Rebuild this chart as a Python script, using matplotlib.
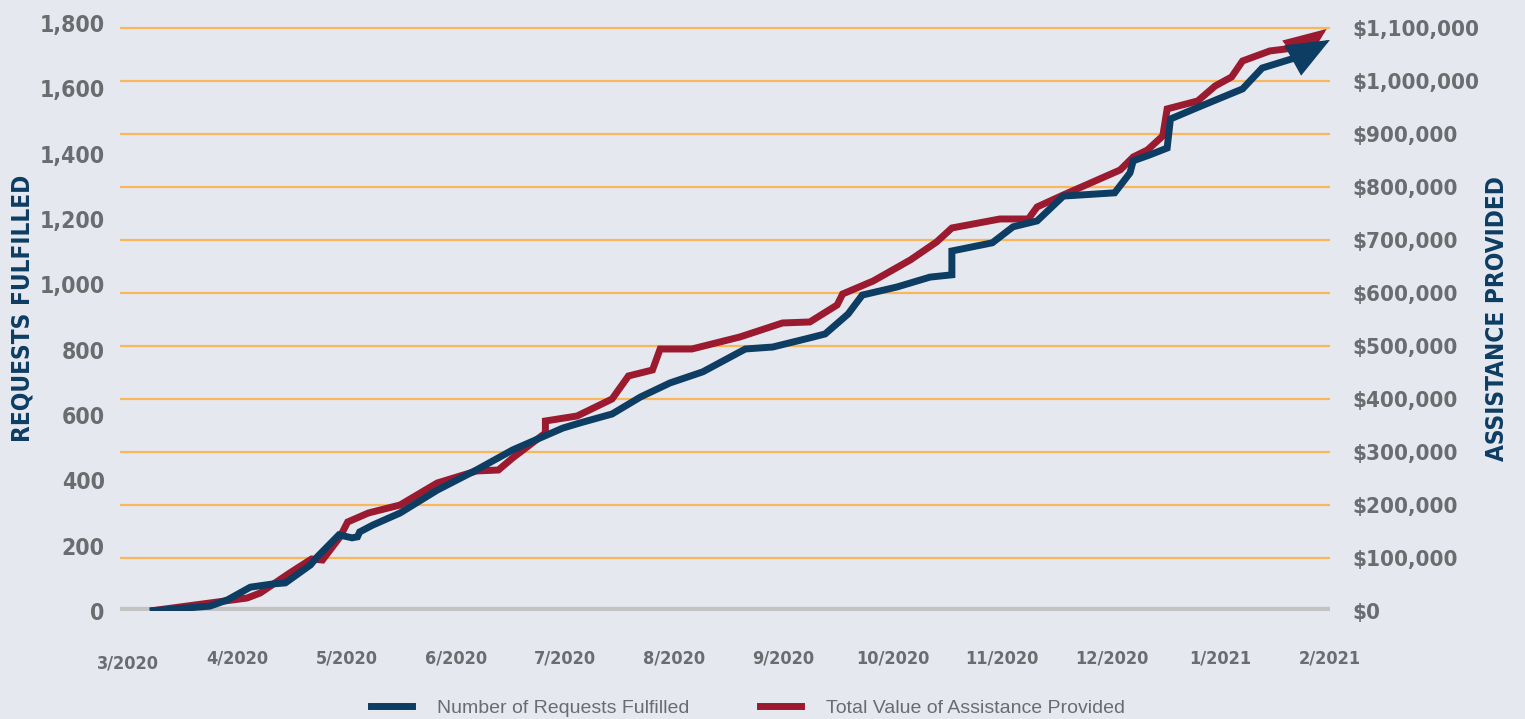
import numpy as np
import matplotlib
matplotlib.use('Agg')
import matplotlib.pyplot as plt
import matplotlib.transforms as mtransforms
from matplotlib import font_manager
from matplotlib.font_manager import FontProperties
from matplotlib.ticker import FuncFormatter

# x positions are months since 3/2020
month_labels = ['3/2020', '4/2020', '5/2020', '6/2020', '7/2020', '8/2020',
                '9/2020', '10/2020', '11/2020', '12/2020', '1/2021', '2/2021']

req_x = [0.20, 0.75, 0.91, 1.12, 1.33, 1.44, 1.67, 1.73, 1.93, 2.05, 2.10, 2.12,
         2.24, 2.49, 2.83, 3.19, 3.52, 3.98, 4.14, 4.43, 4.69, 4.96, 5.26, 5.65,
         5.90, 6.24, 6.38, 6.59, 6.72, 7.04, 7.34, 7.54, 7.54, 7.91, 8.10, 8.32,
         8.56, 9.03, 9.17, 9.20, 9.35, 9.51, 9.54, 9.78, 10.20, 10.38, 10.71, 10.80, 11.0]
requests = [0, 15, 34, 73, 83, 86, 141, 165, 233, 224, 227, 242,
            263, 300, 370, 432, 493, 560, 576, 603, 655, 698, 732, 802,
            808, 836, 848, 909, 967, 992, 1022, 1029, 1102, 1127, 1176, 1194,
            1270, 1280, 1341, 1378, 1396, 1417, 1506, 1540, 1598, 1662, 1696, 1711, 1748]

val_x = [0.20, 1.09, 1.21, 1.48, 1.68, 1.78, 1.94, 2.01, 2.20, 2.49, 2.83, 3.19,
         3.39, 3.52, 3.82, 3.82, 4.11, 4.43, 4.58, 4.80, 4.87, 5.16, 5.60, 5.99,
         6.24, 6.49, 6.54, 6.82, 7.16, 7.40, 7.54, 7.98, 8.24, 8.32, 8.56, 9.08,
         9.20, 9.33, 9.47, 9.51, 9.79, 9.95, 10.10, 10.20, 10.45, 10.75, 10.97]
assistance = [0, 24500, 34000, 71700, 98100, 96200, 139600, 167900, 184900, 200000, 241500, 264200,
              266000, 288700, 335800, 358500, 367900, 400000, 443400, 454700, 494300, 494300, 517000, 543400,
              545300, 577400, 598100, 622600, 662300, 696200, 722600, 739600, 739600, 762300, 784900, 832100,
              856600, 869800, 896200, 947200, 962300, 990600, 1007500, 1037700, 1056600, 1064200, 1098100]

req_ticks = [0, 200, 400, 600, 800, 1000, 1200, 1400, 1600, 1800]
val_ticks = [0, 100000, 200000, 300000, 400000, 500000, 600000,
             700000, 800000, 900000, 1000000, 1100000]

blue = '#0d3d63'
red = '#9b1a30'
grid_orange = '#f9b75a'
base_gray = '#c3c3c3'
text_gray = '#6b6c70'
bg = '#e5e8ef'

# look for a condensed / narrow bold face
cond = None
for f in font_manager.fontManager.ttflist:
    nm = f.name + ' ' + f.fname
    if ('Condensed' in nm or 'Narrow' in nm or f.stretch in ('condensed', 'semi-condensed')) \
            and f.weight in ('bold', 700, 600, 'semibold', 'demibold'):
        cond = f.fname
        break
if cond is None:
    for f in font_manager.fontManager.ttflist:
        nm = f.name + ' ' + f.fname
        if 'Condensed' in nm or 'Narrow' in nm:
            cond = f.fname
            break

def cfont(size):
    if cond:
        return FontProperties(fname=cond, size=size, weight='bold')
    return FontProperties(family='DejaVu Sans', size=size * 0.72, weight='bold')

fig = plt.figure(figsize=(15.25, 7.19), dpi=100, facecolor=bg)
ax2 = fig.add_axes([0.0787, 0.1502, 0.7934, 0.822])
ax = ax2.twinx()
ax.set_zorder(ax2.get_zorder() + 1)
ax.patch.set_visible(False)
ax2.set_facecolor(bg)

xlim = (-0.073, 11.0)
ax.set_xlim(*xlim)
ax2.set_xlim(*xlim)
ax.set_ylim(0, 1809)
ax2.set_ylim(0, 1115000)

# grid + base line
for v in val_ticks[1:]:
    ax2.axhline(v, color=grid_orange, lw=1.6, zorder=1)
ax2.axhline(0, color=base_gray, lw=6, zorder=1)

arrow = dict(arrowstyle='-|>,head_length=1.35,head_width=0.55', lw=2,
             shrinkA=0, shrinkB=0, mutation_scale=20, joinstyle='miter')

# red line on right axis
ax2.plot(val_x[:-1], assistance[:-1], color=red, lw=5, solid_joinstyle='miter',
         solid_capstyle='butt', zorder=3)
ax2.annotate('', xy=(val_x[-1], assistance[-1]), xytext=(val_x[-2], assistance[-2]),
             arrowprops=dict(color=red, **arrow), zorder=4, annotation_clip=False)

# blue line on left axis
ax.plot(req_x[:-1], requests[:-1], color=blue, lw=5, solid_joinstyle='miter',
        solid_capstyle='butt', zorder=3)
ax.annotate('', xy=(req_x[-1], requests[-1]), xytext=(req_x[-2], requests[-2]),
            arrowprops=dict(color=blue, **arrow), zorder=4, annotation_clip=False)

for a in (ax, ax2):
    for s in a.spines.values():
        s.set_visible(False)

ax.yaxis.tick_left()
ax.set_yticks(req_ticks)
ax.yaxis.set_major_formatter(FuncFormatter(lambda v, p: f'{int(v):,}'))
ax.tick_params(axis='y', length=0, pad=11, labelcolor=text_gray)
ax2.yaxis.tick_right()
ax2.set_yticks(val_ticks)
ax2.yaxis.set_major_formatter(FuncFormatter(lambda v, p: f'${int(v):,}'))
ax2.tick_params(axis='y', length=0, pad=16, labelcolor=text_gray)

for lbl in ax.get_yticklabels():
    lbl.set_fontproperties(cfont(16.5))
for lbl in ax2.get_yticklabels():
    lbl.set_fontproperties(cfont(16))

ax.set_xticks([])
ax2.set_xticks(range(len(month_labels)))
ax2.set_xticklabels(month_labels)
ax2.tick_params(axis='x', length=0, pad=28, labelcolor=text_gray)
for lbl in ax2.get_xticklabels():
    lbl.set_fontproperties(cfont(13))
# first month label sits a little lower in the original
first = ax2.get_xticklabels()[0]
first.set_transform(first.get_transform() +
                    mtransforms.ScaledTranslation(0, -3.5 / 72, fig.dpi_scale_trans))

fig.text(23 / 1525, 1 - 308 / 719, 'REQUESTS FULFILLED', rotation=90, color=blue,
         ha='center', va='center', fontproperties=cfont(17.5))
fig.text(1497 / 1525, 1 - 319 / 719, 'ASSISTANCE PROVIDED', rotation=90, color=blue,
         ha='center', va='center', fontproperties=cfont(17.5))

h1, = ax.plot([], [], color=blue, lw=5)
h2, = ax.plot([], [], color=red, lw=5)
fig.legend([h1, h2], ['Number of Requests Fulfilled', 'Total Value of Assistance Provided'],
           loc='center', bbox_to_anchor=(748 / 1525, 1 - 708 / 719), ncol=2,
           frameon=False, labelcolor=text_gray,
           handlelength=2.1, handletextpad=1.3, columnspacing=3.6,
           prop={'family': 'Liberation Sans', 'size': 14})

fig.savefig('out.png', dpi=100, facecolor=bg)
